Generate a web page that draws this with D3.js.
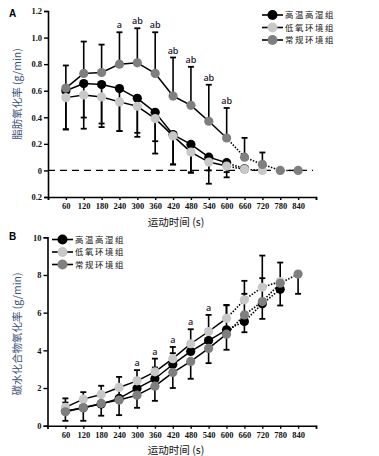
<!DOCTYPE html>
<html><head><meta charset="utf-8">
<script src="https://cdn.jsdelivr.net/npm/d3@7"></script>
<style>
body{margin:0;background:#fff;}
svg{display:block;}
</style></head>
<body>
<svg id="c" width="379" height="456"></svg>
<script>
// ---------- DATA ----------
const times = [60,120,180,240,300,360,420,480,540,600,660,720,780,840];
const xTickValues = [0,60,120,180,240,300,360,420,480,540,600,660,720,780,840,900];
const seriesNames = ["高温高湿组","低氧环境组","常规环境组"];

// Panel A: fat oxidation (g/min)
const fatHot   = [0.60,0.654,0.646,0.616,0.543,0.437,0.27,0.196,0.10,0.058,0.012];
const fatHypo  = [0.548,0.568,0.553,0.516,0.483,0.39,0.26,0.138,0.063,0.033,0.008,0.0];
const fatNorm  = [0.62,0.73,0.737,0.80,0.81,0.73,0.56,0.49,0.37,0.244,0.10,0.045,0.0,0.0];
const fatHotErrDown  = [0.29,0.34,0.32,0.32,0.29,0.31,0.225,0.21,0.20,0.11,0.025];
const fatHypoErrDown = [0.24,0.17,0.20,0.22,0.20,0.17,0.215,0.156,0.063,0.046,0.02];
const fatNormErrUp   = [0.17,0.24,0.21,0.24,0.26,0.31,0.29,0.29,0.275,0.226,0.145,0.09];
const fatSigTimes  = [240,300,360,420,480,540,600];
const fatSigLabels = ["a","ab","ab","ab","ab","ab","ab"];
const fatYTicks = [-0.2,0,0.2,0.4,0.6,0.8,1.0,1.2];
const fatYTickLabels = ["0.2","0","0.2","0.4","0.6","0.8","1.0","1.2"];

// Panel B: carbohydrate oxidation (g/min)
const choHot  = [0.78,0.95,1.15,1.45,1.98,2.49,3.25,3.94,4.52,5.09,5.53,6.47,7.24];
const choHypo = [0.97,1.41,1.66,2.03,2.38,2.86,3.56,4.35,5.0,5.7,6.68,7.35,7.65];
const choNorm = [0.74,0.95,1.18,1.36,1.62,2.10,2.82,3.41,4.10,4.86,5.88,6.59,7.56,8.05];
const choHotErrUp   = [0.45,0.5,0.5,0.55,0.55,0.6,0.6,0.4,0.6,1.3,1.47,1.36,0.5];
const choHypoErrUp  = [0.48,0.37,0.46,0.56,0.57,0.70,0.62,0.77,0.88,0.71,1.01,1.68,1.01];
const choNormErrDown= [0.48,0.69,0.65,0.80,0.67,0.78,0.82,0.92,0.78,0.83,0.92,0.92,1.18,1.05];
const choSigTimes  = [300,360,420,480,540];
const choSigLabels = ["a","a","a","a","a"];
const choYTicks = [0,2,4,6,8,10];

// ---------- STYLE ----------
const colors = ["#000000","#c8c8c8","#7f7f7f"];
const tickFont = "'Liberation Serif','DejaVu Serif',serif";
const cjkFont = "'Noto Sans CJK SC','Noto Sans',sans-serif";
const labelBlue = "#3b5478";
const R = 4.6;
const solidUntil = 600; // segments after this time are dotted

const svg = d3.select("#c");

function panel(cfg){
  const g = svg.append("g");
  const x = d3.scaleLinear().domain([0,900]).range(cfg.xr);
  const y = d3.scaleLinear().domain(cfg.yd).range(cfg.yr);

  const ya = g.append("g").attr("transform",`translate(${cfg.xr[0]},0)`)
    .call(d3.axisLeft(y).tickValues(cfg.yTicks).tickSize(4).tickPadding(2)
      .tickFormat((d,i)=>cfg.yTickLabels[i]));
  const xa = g.append("g").attr("transform",`translate(0,${cfg.yr[0]})`)
    .call(d3.axisBottom(x).tickValues(xTickValues).tickSize(3).tickPadding(3)
      .tickFormat(d=> (d===0||d===900)?"":d));
  [ya,xa].forEach(a=>{
    a.select(".domain").attr("stroke","#000").attr("stroke-width",1.6);
    a.selectAll(".tick line").attr("stroke","#000").attr("stroke-width",1.4);
    a.selectAll("text").attr("font-family",tickFont).attr("font-weight","bold")
      .attr("font-size","8.5px").attr("fill","#111");
  });

  if(cfg.zeroLine){
    g.append("line").attr("x1",cfg.xr[0]).attr("x2",x(890))
      .attr("y1",y(0)).attr("y2",y(0))
      .attr("stroke","#000").attr("stroke-width",1.3).attr("stroke-dasharray","7,5");
  }

  const sData = cfg.series.map((vals,si)=>vals.map((v,i)=>({t:times[i],v,s:si})));

  cfg.errs.forEach(e=>{
    const vals = cfg.series[e.s];
    e.vals.forEach((ev,i)=>{
      const v = vals[i], t = times[i];
      const end = v + e.dir*ev;
      g.append("line").attr("x1",x(t)).attr("x2",x(t)).attr("y1",y(v)).attr("y2",y(end))
        .attr("stroke","#000").attr("stroke-width",1.6);
      g.append("line").attr("x1",x(t)-3).attr("x2",x(t)+3).attr("y1",y(end)).attr("y2",y(end))
        .attr("stroke","#000").attr("stroke-width",1.8);
    });
  });

  sData.forEach(pts=>{
    for(let i=0;i<pts.length-1;i++){
      const a=pts[i], b=pts[i+1];
      g.append("line").attr("x1",x(a.t)).attr("y1",y(a.v)).attr("x2",x(b.t)).attr("y2",y(b.v))
        .attr("stroke","#000").attr("stroke-width", a.t>=solidUntil?1.6:1.5)
        .attr("stroke-dasharray", a.t>=solidUntil?"1.5,1.5":null);
    }
  });
  sData.forEach((pts,si)=>{
    g.selectAll(null).data(pts).enter().append("circle")
      .attr("cx",d=>x(d.t)).attr("cy",d=>y(d.v)).attr("r",R)
      .attr("fill",colors[si]);
  });

  cfg.sig.times.forEach((t,i)=>{
    const top = cfg.sigY[i];
    g.append("text").attr("x",x(t)).attr("y",y(top)-4).attr("text-anchor","middle")
      .attr("font-family","'Open Sans','DejaVu Sans',sans-serif").attr("font-size","9px")
      .attr("font-weight","600").attr("fill","#1e2235").text(cfg.sig.labels[i]);
  });

  g.append("text").attr("transform",`translate(${cfg.ylabX},${cfg.ylabY}) rotate(-90)`)
    .attr("text-anchor","middle").attr("font-family",cjkFont).attr("font-size","10.5px")
    .attr("fill",labelBlue).text(cfg.ylab);
  g.append("text").attr("x",176).attr("y",cfg.xlabY).attr("text-anchor","middle")
    .attr("font-family",cjkFont).attr("font-size","10.5px").attr("fill","#111").text("运动时间 (s)");

  g.append("text").attr("x",9).attr("y",cfg.letterY).attr("font-family","'Liberation Sans',Arial,sans-serif")
    .attr("font-weight","bold").attr("font-size","10px").attr("fill","#000").text(cfg.letter);

  seriesNames.forEach((n,i)=>{
    const ly = cfg.legY + i*12.5;
    g.append("line").attr("x1",cfg.legX).attr("x2",cfg.legX+21).attr("y1",ly).attr("y2",ly)
      .attr("stroke","#000").attr("stroke-width",1.6);
    g.append("circle").attr("cx",cfg.legX+10.5).attr("cy",ly).attr("r",R+0.4).attr("fill",colors[i]);
    g.append("text").attr("x",cfg.legX+23).attr("y",ly+3.2).attr("font-family",cjkFont)
      .attr("font-size","8.4px").attr("letter-spacing","1.6px").attr("fill","#111").text(n);
  });
}

function sigTops(series, errsUp, sigT){
  return sigT.map(t=>{
    const i = times.indexOf(t);
    let m = -Infinity;
    series.forEach((s,k)=>{ if(s[i]!==undefined){ m=Math.max(m, s[i] + (errsUp[k]? (errsUp[k][i]||0):0)); } });
    return m;
  });
}

panel({
  xr:[48,316], yd:[-0.2,1.2], yr:[197,11],
  yTicks:fatYTicks, yTickLabels:fatYTickLabels,
  zeroLine:true,
  series:[fatHot,fatHypo,fatNorm],
  errs:[{s:0,vals:fatHotErrDown,dir:-1},{s:1,vals:fatHypoErrDown,dir:-1},{s:2,vals:fatNormErrUp,dir:1}],
  sig:{times:fatSigTimes,labels:fatSigLabels},
  sigY:sigTops([fatHot,fatHypo,fatNorm],[null,null,fatNormErrUp],fatSigTimes),
  ylab:"脂肪氧化率 (g/min)", ylabX:21, ylabY:94,
  xlabY:226, letter:"A", letterY:17,
  legX:262, legY:15
});

panel({
  xr:[47.5,316], yd:[0,10], yr:[425.7,237.3],
  yTicks:choYTicks, yTickLabels:choYTicks.map(String),
  zeroLine:false,
  series:[choHot,choHypo,choNorm],
  errs:[{s:0,vals:choHotErrUp,dir:1},{s:1,vals:choHypoErrUp,dir:1},{s:2,vals:choNormErrDown,dir:-1}],
  sig:{times:choSigTimes,labels:choSigLabels},
  sigY:sigTops([choHot,choHypo,choNorm],[choHotErrUp,choHypoErrUp,null],choSigTimes),
  ylab:"碳水化合物氧化率 (g/min)", ylabX:21, ylabY:334,
  xlabY:454, letter:"B", letterY:240,
  legX:52, legY:239.5
});
</script>
</body></html>
